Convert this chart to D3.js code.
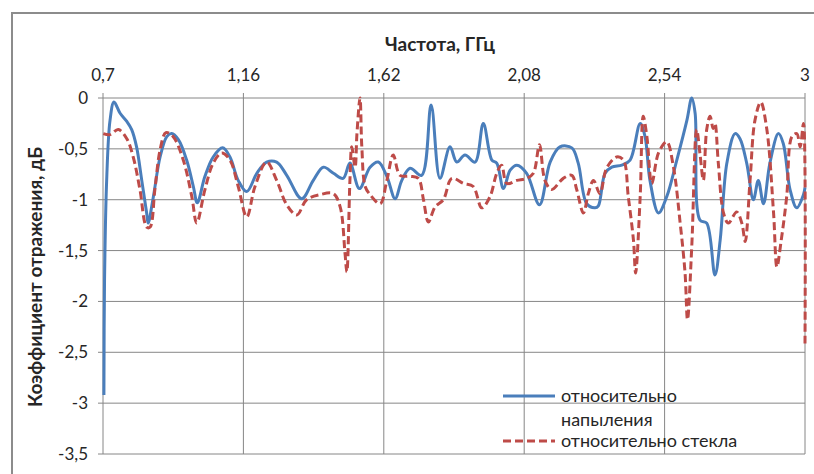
<!DOCTYPE html>
<html>
<head>
<meta charset="utf-8">
<script src="https://cdn.jsdelivr.net/npm/d3@7"></script>
<style>
  body { margin: 0; background: #fff; }
  text { font-family: Lato, "Open Sans", sans-serif; fill: #262626; }
</style>
</head>
<body>
<script>
// frequency ticks (GHz) and value ticks (dB)
var xTicks = [0.7, 1.16, 1.62, 2.08, 2.54, 3];
var yTicks = [0, -0.5, -1, -1.5, -2, -2.5, -3, -3.5];

// series 1: относительно напыления
var freqA = [0.703, 0.705, 0.712, 0.723, 0.736, 0.756, 0.778, 0.794, 0.810, 0.827, 0.843, 0.848, 0.865, 0.887, 0.909, 0.925, 0.947, 0.974, 0.996, 1.009, 1.034, 1.061, 1.092, 1.116, 1.143, 1.171, 1.204, 1.236, 1.269, 1.302, 1.351, 1.389, 1.422, 1.455, 1.487, 1.509, 1.540, 1.575, 1.602, 1.630, 1.657, 1.679, 1.706, 1.744, 1.775, 1.804, 1.837, 1.859, 1.886, 1.919, 1.946, 1.974, 1.990, 2.012, 2.034, 2.056, 2.088, 2.130, 2.165, 2.197, 2.236, 2.257, 2.285, 2.312, 2.323, 2.345, 2.367, 2.400, 2.427, 2.460, 2.476, 2.492, 2.520, 2.547, 2.580, 2.613, 2.629, 2.640, 2.656, 2.678, 2.705, 2.722, 2.744, 2.771, 2.787, 2.809, 2.831, 2.847, 2.864, 2.885, 2.913, 2.929, 2.951, 2.973, 2.995, 3.0];
var valA = [-2.92, -1.8, -0.81, -0.22, -0.04, -0.15, -0.23, -0.31, -0.48, -0.81, -1.13, -1.23, -0.97, -0.58, -0.38, -0.35, -0.41, -0.61, -0.87, -1.03, -0.77, -0.58, -0.49, -0.58, -0.81, -0.92, -0.74, -0.63, -0.63, -0.76, -0.99, -0.81, -0.68, -0.74, -0.79, -0.64, -0.89, -0.68, -0.63, -0.77, -0.99, -0.81, -0.69, -0.76, -0.07, -0.79, -0.48, -0.63, -0.56, -0.63, -0.25, -0.61, -0.64, -0.89, -0.71, -0.66, -0.74, -1.05, -0.63, -0.48, -0.49, -0.64, -1.04, -1.08, -1.06, -0.74, -0.68, -0.66, -0.61, -0.25, -0.38, -0.81, -1.13, -0.97, -0.61, -0.22, 0.0, -0.15, -1.2, -1.23, -1.74, -1.4, -0.64, -0.35, -0.4, -0.64, -1.0, -0.81, -1.04, -0.64, -0.35, -0.45, -0.9, -1.08, -0.95, -0.88];

// series 2: относительно стекла
var freqB = [0.701, 0.723, 0.750, 0.778, 0.799, 0.821, 0.843, 0.854, 0.870, 0.887, 0.906, 0.930, 0.963, 0.991, 1.007, 1.034, 1.061, 1.089, 1.116, 1.143, 1.171, 1.198, 1.236, 1.269, 1.302, 1.335, 1.367, 1.411, 1.455, 1.477, 1.493, 1.499, 1.509, 1.515, 1.526, 1.532, 1.542, 1.548, 1.559, 1.575, 1.608, 1.630, 1.651, 1.673, 1.706, 1.733, 1.750, 1.766, 1.788, 1.815, 1.843, 1.881, 1.913, 1.941, 1.968, 1.990, 2.006, 2.023, 2.056, 2.088, 2.110, 2.130, 2.148, 2.170, 2.208, 2.236, 2.252, 2.274, 2.290, 2.307, 2.328, 2.350, 2.383, 2.405, 2.421, 2.438, 2.445, 2.460, 2.470, 2.482, 2.498, 2.520, 2.547, 2.569, 2.591, 2.607, 2.615, 2.629, 2.645, 2.656, 2.667, 2.678, 2.689, 2.699, 2.705, 2.716, 2.733, 2.749, 2.776, 2.793, 2.804, 2.820, 2.836, 2.855, 2.875, 2.897, 2.908, 2.922, 2.940, 2.957, 2.973, 2.984, 2.995, 3.0];
var valB = [-0.35, -0.36, -0.31, -0.4, -0.58, -0.9, -1.27, -1.27, -0.9, -0.51, -0.34, -0.38, -0.61, -0.97, -1.23, -0.9, -0.64, -0.54, -0.61, -0.87, -1.17, -0.87, -0.63, -0.81, -1.05, -1.15, -1.0, -0.95, -0.94, -1.07, -1.53, -1.71, -0.81, -0.48, -0.68, -0.35, 0.0, -0.48, -0.87, -0.95, -1.04, -0.81, -0.56, -0.76, -0.77, -0.79, -1.0, -1.22, -1.07, -1.0, -0.79, -0.84, -0.87, -1.08, -0.97, -0.74, -0.66, -0.84, -0.81, -0.79, -0.74, -0.46, -0.81, -0.9, -0.79, -0.76, -0.9, -1.13, -0.94, -0.81, -0.94, -0.69, -0.58, -0.61, -0.97, -1.4, -1.72, -0.97, -0.18, -0.38, -0.84, -0.54, -0.43, -0.68, -1.23, -1.72, -2.18, -1.46, -0.31, -0.55, -0.81, -0.31, -0.18, -0.3, -0.25, -0.64, -1.13, -1.23, -1.12, -1.23, -1.41, -0.81, -0.22, -0.04, -0.31, -1.13, -1.66, -1.4, -0.97, -0.38, -0.35, -0.48, -0.25, -2.42];

var seriesNames = ["относительно напыления", "относительно стекла"];

var W = 814, H = 474;
var plot = {left: 103, right: 805, top: 98, bottom: 454};

var svg = d3.select("body").append("svg")
    .attr("width", W)
    .attr("height", H);

// outer chart frame (runs past the window on the right and bottom)
svg.append("rect")
    .attr("x", 12).attr("y", 13)
    .attr("width", 830).attr("height", 490)
    .attr("fill", "#fff")
    .attr("stroke", "#8c8c8c")
    .attr("stroke-width", 2);

var x = d3.scaleLinear().domain([0.7, 3]).range([plot.left, plot.right]);
var y = d3.scaleLinear().domain([0, -3.5]).range([plot.top, plot.bottom]);

var fmt = function(d) { return String(d).replace(".", ","); };

// horizontal gridlines
svg.append("g")
    .selectAll("line")
    .data(yTicks)
  .enter().append("line")
    .attr("x1", plot.left - 5).attr("x2", plot.right)
    .attr("y1", function(d) { return y(d); })
    .attr("y2", function(d) { return y(d); })
    .attr("stroke", "#868686")
    .attr("stroke-width", 1);

// vertical gridlines
svg.append("g")
    .selectAll("line")
    .data(xTicks)
  .enter().append("line")
    .attr("x1", function(d) { return x(d); })
    .attr("x2", function(d) { return x(d); })
    .attr("y1", plot.top - 5).attr("y2", plot.bottom)
    .attr("stroke", "#868686")
    .attr("stroke-width", 1);

// top axis labels
svg.append("g")
    .selectAll("text")
    .data(xTicks)
  .enter().append("text")
    .attr("x", function(d) { return x(d); })
    .attr("y", 81)
    .attr("text-anchor", "middle")
    .style("font-size", "17px")
    .text(fmt);

// left axis labels
svg.append("g")
    .selectAll("text")
    .data(yTicks)
  .enter().append("text")
    .attr("x", 88)
    .attr("y", function(d) { return y(d) + 6; })
    .attr("text-anchor", "end")
    .style("font-size", "17px")
    .text(fmt);

// titles
svg.append("text")
    .attr("x", 440).attr("y", 51)
    .attr("text-anchor", "middle")
    .style("font-size", "19px")
    .style("font-weight", "bold")
    .text("Частота, ГГц");

svg.append("text")
    .attr("transform", "translate(42,277) rotate(-90)")
    .attr("text-anchor", "middle")
    .style("font-size", "19px")
    .style("font-weight", "bold")
    .text("Коэффициент отражения, дБ");

var line = d3.line()
    .x(function(d) { return x(d[0]); })
    .y(function(d) { return y(d[1]); })
    .curve(d3.curveCatmullRom.alpha(0.5));

svg.append("path")
    .datum(d3.zip(freqA, valA))
    .attr("d", line)
    .attr("fill", "none")
    .attr("stroke", "#4a7ebb")
    .attr("stroke-width", 3);

svg.append("path")
    .datum(d3.zip(freqB, valB))
    .attr("d", line)
    .attr("fill", "none")
    .attr("stroke", "#be4b48")
    .attr("stroke-width", 3)
    .attr("stroke-dasharray", "8,4");

// legend
var lg = svg.append("g");
lg.append("line")
    .attr("x1", 503).attr("x2", 555).attr("y1", 396).attr("y2", 396)
    .attr("stroke", "#4a7ebb").attr("stroke-width", 3);
lg.append("text").attr("x", 561).attr("y", 402)
    .style("font-size", "18px").text("относительно");
lg.append("text").attr("x", 561).attr("y", 426)
    .style("font-size", "18px").text("напыления");
lg.append("line")
    .attr("x1", 503).attr("x2", 555).attr("y1", 441).attr("y2", 441)
    .attr("stroke", "#be4b48").attr("stroke-width", 3)
    .attr("stroke-dasharray", "8,4");
lg.append("text").attr("x", 561).attr("y", 447)
    .style("font-size", "18px").text(seriesNames[1]);
</script>
</body>
</html>
